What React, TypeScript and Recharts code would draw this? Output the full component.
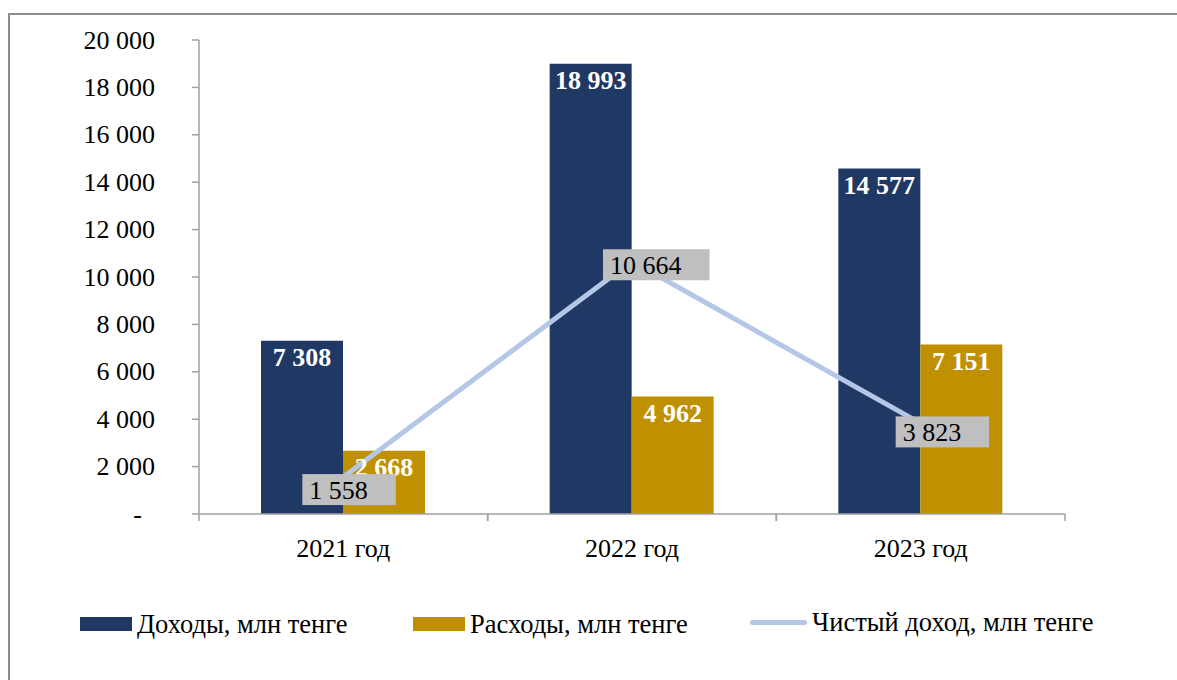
import { ComposedChart, Bar, Line, XAxis, YAxis, LabelList } from "recharts";

const YEARS = ["2021 год", "2022 год", "2023 год"];
const INCOME = [7308, 18993, 14577];
const EXPENSES = [2668, 4962, 7151];
const NET_INCOME = [1558, 10664, 3823];
const Y_TICKS = [0, 2000, 4000, 6000, 8000, 10000, 12000, 14000, 16000, 18000, 20000];

const SERIES_NAMES = {
  income: "Доходы, млн тенге",
  expenses: "Расходы, млн тенге",
  net: "Чистый доход, млн тенге",
};

const COLORS = {
  income: "#203864",
  expenses: "#bf9000",
  net: "#b4c7e7",
  axis: "#a0a0a0",
  frame: "#8c8c8c",
  labelBox: "#bfbfbf",
};

// label box nudges for the line series (dx, dy from the point)
const NET_LABEL_NUDGE = [
  [-41, -3],
  [-29, -12],
  [-25, -7],
];

const FONT = "'Liberation Serif', 'Times New Roman', serif";
const FONT_SIZE = 26;

const data = YEARS.map((year, i) => ({
  year,
  income: INCOME[i],
  expenses: EXPENSES[i],
  net: NET_INCOME[i],
}));

const fmt = (v: number) =>
  v === 0 ? "-" : String(v).replace(/\B(?=(\d{3})+(?!\d))/g, " ");

function YTick(props: any) {
  const { x, y, payload } = props;
  const isZero = payload.value === 0;
  return (
    <text
      x={isZero ? x - 13 : x}
      y={y}
      textAnchor="end"
      dominantBaseline="central"
      fontFamily={FONT}
      fontSize={FONT_SIZE}
      fill="#000"
    >
      {fmt(payload.value)}
    </text>
  );
}

function XTick(props: any) {
  const { x, y, payload } = props;
  const half = payload.offset || 144.3;
  return (
    <g>
      <line x1={x - half} x2={x - half} y1={y} y2={y + 7} stroke={COLORS.axis} strokeWidth={1.5} />
      <line x1={x + half} x2={x + half} y1={y} y2={y + 7} stroke={COLORS.axis} strokeWidth={1.5} />
      <text
        x={x}
        y={y + 34}
        textAnchor="middle"
        dominantBaseline="central"
        fontFamily={FONT}
        fontSize={FONT_SIZE}
        fill="#000"
      >
        {payload.value}
      </text>
    </g>
  );
}

function NetLabel(props: any) {
  const { x, y, value, index } = props;
  const text = fmt(value);
  const textW = text.split("").reduce((s, c) => s + (c === " " ? 0.25 : 0.5), 0) * FONT_SIZE;
  const [dx, dy] = NET_LABEL_NUDGE[index] || [-30, -7];
  const bx = x + dx;
  const by = y + dy;
  return (
    <g>
      <rect x={bx} y={by} width={textW + 35} height={31} fill={COLORS.labelBox} />
      <text
        x={bx + 7}
        y={by + 16}
        dominantBaseline="central"
        fontFamily={FONT}
        fontSize={FONT_SIZE}
        fill="#000"
      >
        {text}
      </text>
    </g>
  );
}

const barLabelStyle = {
  fill: "#fff",
  fontFamily: FONT,
  fontSize: 26,
  fontWeight: 700,
};

function LegendItem({ kind, color, label }: { kind: "rect" | "line"; color: string; label: string }) {
  return (
    <div style={{ display: "flex", alignItems: "center" }}>
      {kind === "rect" ? (
        <div style={{ width: 52, height: 14, background: color, marginRight: 5 }} />
      ) : (
        <div style={{ width: 57, height: 5, borderRadius: 3, background: color, marginRight: 5 }} />
      )}
      <span style={{ fontFamily: FONT, fontSize: 26.5, color: "#000", lineHeight: "30px" }}>{label}</span>
    </div>
  );
}

export default function App() {
  return (
    <div
      style={{
        position: "fixed",
        left: 0,
        top: 0,
        width: 1177,
        height: 680,
        overflow: "hidden",
        background: "#fff",
      }}
    >
      <div
        style={{
          position: "absolute",
          left: 8,
          top: 13,
          width: 1200,
          height: 720,
          border: `2px solid ${COLORS.frame}`,
          boxSizing: "border-box",
        }}
      />
      <div style={{ position: "absolute", left: 8, top: 8 }}>
        <ComposedChart
          width={1169}
          height={672}
          data={data}
          margin={{ top: 32, right: 112, bottom: 0, left: 0 }}
          barGap={0}
        >
          <XAxis
            dataKey="year"
            height={166}
            axisLine={{ stroke: COLORS.axis, strokeWidth: 1.5 }}
            tickLine={false}
            tickSize={0}
            tickMargin={0}
            tick={<XTick />}
            interval={0}
          />
          <YAxis
            width={191}
            domain={[0, 20000]}
            ticks={Y_TICKS}
            interval={0}
            axisLine={{ stroke: COLORS.axis, strokeWidth: 1.5 }}
            tickLine={{ stroke: COLORS.axis, strokeWidth: 1.5 }}
            tickSize={7}
            tickMargin={37}
            tick={<YTick />}
          />
          <Bar dataKey="income" name={SERIES_NAMES.income} fill={COLORS.income} barSize={82} isAnimationActive={false}>
            <LabelList dataKey="income" position="insideTop" offset={7} formatter={(v: any) => fmt(v)} style={barLabelStyle} />
          </Bar>
          <Bar dataKey="expenses" name={SERIES_NAMES.expenses} fill={COLORS.expenses} barSize={82} isAnimationActive={false}>
            <LabelList dataKey="expenses" position="insideTop" offset={7} formatter={(v: any) => fmt(v)} style={barLabelStyle} />
          </Bar>
          <Line
            dataKey="net"
            name={SERIES_NAMES.net}
            stroke={COLORS.net}
            strokeWidth={5}
            dot={false}
            activeDot={false}
            isAnimationActive={false}
          >
            <LabelList dataKey="net" content={<NetLabel />} />
          </Line>
        </ComposedChart>
      </div>
      <div style={{ position: "absolute", left: 80, top: 609 }}>
        <LegendItem kind="rect" color={COLORS.income} label={SERIES_NAMES.income} />
      </div>
      <div style={{ position: "absolute", left: 413, top: 609 }}>
        <LegendItem kind="rect" color={COLORS.expenses} label={SERIES_NAMES.expenses} />
      </div>
      <div style={{ position: "absolute", left: 750, top: 607 }}>
        <LegendItem kind="line" color={COLORS.net} label={SERIES_NAMES.net} />
      </div>
    </div>
  );
}
